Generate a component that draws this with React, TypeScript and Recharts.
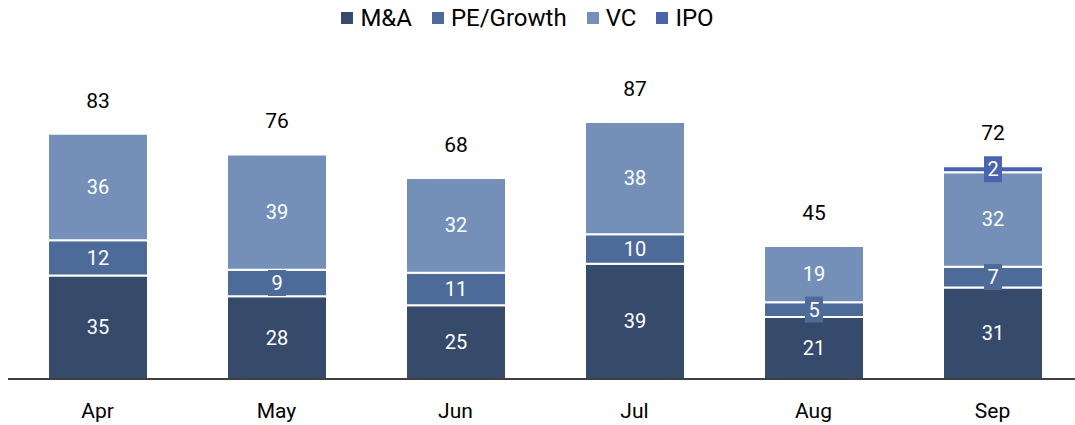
import { BarChart, Bar, XAxis, YAxis, LabelList } from 'recharts';

const months = ['Apr', 'May', 'Jun', 'Jul', 'Aug', 'Sep'];
const maDeals = [35, 28, 25, 39, 21, 31];
const peGrowth = [12, 9, 11, 10, 5, 7];
const vcDeals = [36, 39, 32, 38, 19, 32];
const ipoDeals = [0, 0, 0, 0, 0, 2];
const totals = [83, 76, 68, 87, 45, 72];

const series = [
  { key: 'ma', name: 'M&A', color: '#364a6b' },
  { key: 'pe', name: 'PE/Growth', color: '#4d6b99' },
  { key: 'vc', name: 'VC', color: '#7590b8' },
  { key: 'ipo', name: 'IPO', color: '#4a63ad' },
];

const data = months.map((m, i) => ({
  month: m,
  ma: maDeals[i],
  pe: peGrowth[i],
  vc: vcDeals[i],
  ipo: ipoDeals[i],
}));

const FONT = 'Roboto, "Noto Sans", sans-serif';

// white number on a small box of the segment colour, so thin segments stay readable
const makeSegmentLabel = (color: string) => (props: any) => {
  const { x, y, width, height, value } = props;
  if (!value) return null;
  const cx = Number(x) + Number(width) / 2;
  const cy = Number(y) + Number(height) / 2;
  const w = String(value).length * 12 + 6;
  return (
    <g>
      <rect x={cx - w / 2} y={cy - 13} width={w} height={26} fill={color} />
      <text x={cx} y={cy + 7} textAnchor="middle" fill="#fff" fontSize={20} fontFamily={FONT}>
        {value}
      </text>
    </g>
  );
};

// total above the stack, drawn by whichever series is the top non-zero one for that month
const makeTotalLabel = (seriesIdx: number) => (props: any) => {
  const { x, y, width, value } = props;
  const i = months.indexOf(String(value));
  if (i < 0) return null;
  const vals = [maDeals[i], peGrowth[i], vcDeals[i], ipoDeals[i]];
  let top = 0;
  vals.forEach((v, k) => {
    if (v > 0) top = k;
  });
  if (top !== seriesIdx) return null;
  return (
    <text
      x={Number(x) + Number(width) / 2}
      y={Number(y) - 26}
      textAnchor="middle"
      fill="#000"
      fontSize={21}
      fontFamily={FONT}
    >
      {totals[i]}
    </text>
  );
};

function Legend() {
  return (
    <div
      style={{
        position: 'absolute',
        top: 3,
        left: 0,
        width: 1075,
        display: 'flex',
        justifyContent: 'center',
        gap: 20,
        fontFamily: FONT,
        fontSize: 24,
        lineHeight: '30px',
        color: '#000',
        paddingRight: 20,
        boxSizing: 'border-box',
      }}
    >
      {series.map((s) => (
        <div key={s.key} style={{ display: 'flex', alignItems: 'center', gap: 7 }}>
          <span style={{ width: 12, height: 12, background: s.color, display: 'inline-block' }} />
          <span>{s.name}</span>
        </div>
      ))}
    </div>
  );
}

export default function App() {
  return (
    <div
      style={{
        position: 'absolute',
        left: 0,
        top: 0,
        width: 1075,
        height: 425,
        overflow: 'hidden',
        background: '#fff',
      }}
    >
      <Legend />
      <BarChart
        width={1082}
        height={425}
        data={data}
        margin={{ top: 54, right: 0, bottom: 0, left: 8 }}
        barSize={100}
      >
        <XAxis
          dataKey="month"
          tickLine={false}
          axisLine={{ stroke: '#000', strokeWidth: 1.5 }}
          height={46}
          tick={{ fontSize: 21, fill: '#000', fontFamily: FONT }}
          tickMargin={18}
        />
        <YAxis hide domain={[0, 110]} />
        {series.map((s, si) => (
          <Bar
            key={s.key}
            dataKey={s.key}
            name={s.name}
            stackId="deals"
            fill={s.color}
            stroke="#fff"
            strokeWidth={2}
            isAnimationActive={false}
          >
            <LabelList dataKey={s.key} content={makeSegmentLabel(s.color)} />
            <LabelList dataKey="month" content={makeTotalLabel(si)} />
          </Bar>
        ))}
      </BarChart>
    </div>
  );
}
